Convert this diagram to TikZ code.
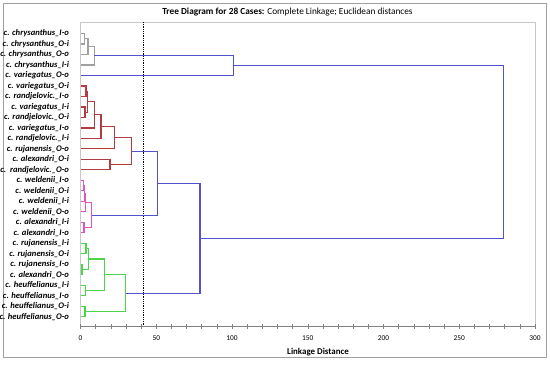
\documentclass[tikz,border=0pt]{standalone}
\usepackage{fontspec}
\setmainfont{Carlito}
\usetikzlibrary{calc}

\definecolor{treeblue}{RGB}{82,82,204}
\definecolor{treegray}{RGB}{160,160,160}
\definecolor{treered}{RGB}{180,60,64}
\definecolor{treepink}{RGB}{228,84,190}
\definecolor{treegreen}{RGB}{76,212,76}
\definecolor{framegray}{RGB}{200,200,200}

\tikzset{
	link/.style={line width=1.2pt,draw=treeblue},
	leaflabel/.style={anchor=east,inner sep=0.75pt,font=\fontsize{8.6}{9}\selectfont\bfseries\itshape},
	ticklabel/.style={inner sep=0.75pt,font=\fontsize{7.4}{8}\selectfont},
}

% join two clusters at linkage distance #3
\newcommand\clusterjoin[5][]{%
	\path ($(#4)!.5!(#5)$) coordinate (h#2);
	\coordinate (#2) at (#3,0 |- h#2);
	\draw[link,#1] (#4) -| (#2) |- (#5);}

\begin{document}
\begin{tikzpicture}[x=1pt,y=1pt,yscale=-1,xscale=1]
	\useasboundingbox (0,0) rectangle (550,365);
	
	%Shape: Rectangle [outer frame]
	\draw [framegray!80!black,line width=1pt] (3.5,3.5) rectangle (546,357.5);
	%Shape: Rectangle [plot area]
	\draw [framegray,line width=0.6pt] (80.5,22) rectangle (535,326);
	
	% Text Node
	\node [inner sep=0pt,font=\fontsize{9.3}{11}\selectfont] (title) at (287.5,12) {\textbf{Tree Diagram for 28 Cases:} Complete Linkage; Euclidean distances};
	
	\begin{scope}[shift={(80.5,0)},xscale=1.515]
		% axis and ticks
		\draw [gray,line width=0.6pt] (0,326) -- (300,326);
		\foreach \t in {0,10,...,300}
			\draw [gray,line width=0.5pt] (\t,323.5) -- (\t,328.5);
		\foreach \t in {0,50,...,300}
			\node [ticklabel] (tick\t) at (\t,338) {\t};
		
		% cut line
		\draw [densely dotted,line width=0.8pt] (41.6,22) -- (41.6,326);
		
		% leaves
		\foreach \lab [count=\i from 0] in {c. chrysanthus\_I-o, c. chrysanthus\_O-i, c. chrysanthus\_O-o, c. chrysanthus\_I-i, c. variegatus\_O-o, c. variegatus\_O-i, c. randjelovic.\_I-o, c. variegatus\_I-i, c. randjelovic.\_O-i, c. variegatus\_I-o, c. randjelovic.\_I-i, c. rujanensis\_O-o, c. alexandri\_O-i, c.\ \ randjelovic.\_O-o, c. weldenii\_I-o, c. weldenii\_O-i, c. weldenii\_I-i, c. weldenii\_O-o, c. alexandri\_I-i, c. alexandri\_I-o, c. rujanensis\_I-i, c. rujanensis\_O-i, c. rujanensis\_I-o, c. alexandri\_O-o, c. heuffelianus\_I-i, c. heuffelianus\_I-o, c. heuffelianus\_O-i, c. heuffelianus\_O-o}{
			\coordinate (l\i) at (0,{33.5+10.49*\i});
			\node [leaflabel] (n\i) at ([xshift=-7pt]l\i) {\lab};
		}
		
		% gray cluster
		\clusterjoin[treegray]{g1}{2.6}{l0}{l1}
		\clusterjoin[treegray]{g2}{5.0}{g1}{l2}
		\clusterjoin[treegray]{g3}{9.2}{g2}{l3}
		\clusterjoin{b1}{100.9}{g3}{l4}
		
		% red cluster
		\clusterjoin[treered]{r1}{3.6}{l5}{l6}
		\clusterjoin[treered]{r2}{3.0}{l7}{l8}
		\clusterjoin[treered]{r3}{4.8}{r1}{r2}
		\clusterjoin[treered]{r4}{9.1}{r3}{l9}
		\clusterjoin[treered]{r5}{13.5}{r4}{l10}
		\clusterjoin[treered]{r6}{22.3}{r5}{l11}
		\clusterjoin[treered]{r7}{19.5}{l12}{l13}
		\clusterjoin[treered]{r8}{33.8}{r6}{r7}
		
		% pink cluster
		\clusterjoin[treepink]{p1}{2.0}{l14}{l15}
		\clusterjoin[treepink]{p2}{2.6}{p1}{l16}
		\clusterjoin[treepink]{p3}{3.4}{p2}{l17}
		\clusterjoin[treepink]{p4}{2.3}{l18}{l19}
		\clusterjoin[treepink]{p5}{7.4}{p3}{p4}
		\clusterjoin{b2}{50.7}{r8}{p5}
		
		% green cluster
		\clusterjoin[treegreen]{e1}{3.6}{l20}{l21}
		\clusterjoin[treegreen]{e2}{1.0}{l22}{l23}
		\clusterjoin[treegreen]{e3}{5.1}{e1}{e2}
		\clusterjoin[treegreen]{e4}{3.4}{l24}{l25}
		\clusterjoin[treegreen]{e5}{15.7}{e3}{e4}
		\clusterjoin[treegreen]{e6}{3.0}{l26}{l27}
		\clusterjoin[treegreen]{e7}{29.8}{e5}{e6}
		
		% top links
		\clusterjoin{b3}{78.9}{b2}{e7}
		\clusterjoin{b4}{279}{b1}{b3}
	\end{scope}
	
	% Text Node
	\node [inner sep=0.75pt,font=\fontsize{8.9}{10}\selectfont\bfseries] (xtitle) at (318,352) {Linkage Distance};
\end{tikzpicture}
\end{document}
